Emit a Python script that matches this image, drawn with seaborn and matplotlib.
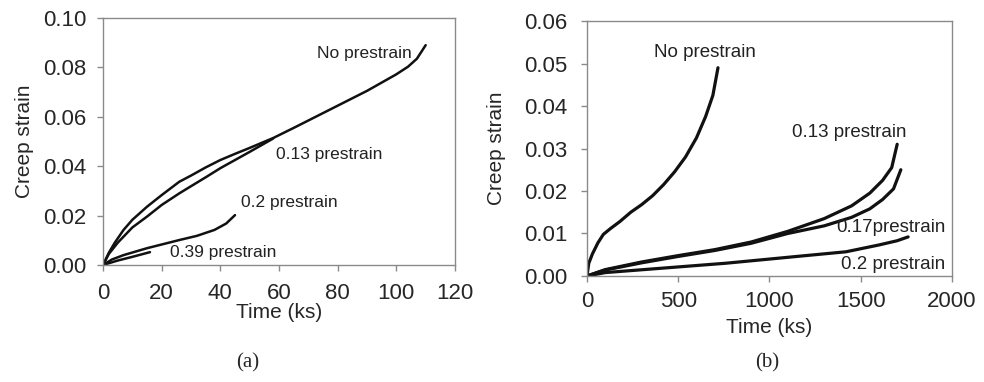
import matplotlib
matplotlib.use("Agg")
import matplotlib.pyplot as plt
import seaborn as sns
from matplotlib.ticker import FormatStrFormatter

# ---- panel (a): time in ks, creep strain
a_none_t = [0, 2, 4, 7, 10, 15, 20, 26, 30, 35, 40, 45, 50, 58, 65, 70, 80, 90, 100, 104, 107, 110]
a_none_e = [0, 0.005, 0.009, 0.0142, 0.0183, 0.0236, 0.0283, 0.0337, 0.0362, 0.0395, 0.0425,
            0.045, 0.0474, 0.0514, 0.0555, 0.0585, 0.0645, 0.0705, 0.0772, 0.0803, 0.0835, 0.089]
a_013_t = [0, 2, 5, 10, 15, 20, 26, 30, 35, 40, 45, 50, 58]
a_013_e = [0, 0.0045, 0.009, 0.0152, 0.0196, 0.0243, 0.029, 0.0319, 0.0355, 0.0392,
           0.0425, 0.0458, 0.0512]
a_02_t = [0, 3, 7, 15, 20, 26, 32, 38, 42, 45]
a_02_e = [0, 0.0022, 0.004, 0.0068, 0.0083, 0.0101, 0.0118, 0.0142, 0.0168, 0.0202]
a_039_t = [0, 5, 10, 16]
a_039_e = [0, 0.0018, 0.0033, 0.0052]

# ---- panel (b)
b_none_t = [0, 10, 30, 60, 90, 130, 180, 240, 300, 360, 420, 480, 540, 600, 650, 690, 718]
b_none_e = [0, 0.003, 0.0052, 0.0078, 0.0098, 0.0112, 0.0128, 0.015, 0.0168, 0.0189,
            0.0215, 0.0245, 0.028, 0.0325, 0.0375, 0.0425, 0.049]
b_013_t = [0, 100, 300, 500, 700, 900, 1100, 1300, 1450, 1550, 1620, 1670, 1700]
b_013_e = [0, 0.0015, 0.0033, 0.0048, 0.0062, 0.008, 0.0105, 0.0135, 0.0165, 0.0195,
           0.0225, 0.0255, 0.031]
b_017_t = [0, 100, 300, 500, 700, 900, 1100, 1300, 1450, 1550, 1620, 1680, 1720]
b_017_e = [0, 0.0014, 0.0031, 0.0046, 0.006, 0.0077, 0.01, 0.0118, 0.0138, 0.0158,
           0.018, 0.0205, 0.025]
b_02_t = [0, 100, 400, 760, 1150, 1420, 1600, 1700, 1760]
b_02_e = [0, 0.0008, 0.0018, 0.003, 0.0046, 0.0057, 0.0073, 0.0083, 0.0092]

sns.set_style("white")
plt.rcParams['font.family'] = ['Liberation Sans', 'DejaVu Sans']

fig = plt.figure(figsize=(9.84, 3.82), dpi=100)
ax1 = fig.add_axes([0.1047, 0.3063, 0.3577, 0.6466])
ax2 = fig.add_axes([0.5965, 0.2775, 0.3709, 0.6675])

spine_col = '#8a8a8a'
for ax in (ax1, ax2):
    for s in ax.spines.values():
        s.set_color(spine_col)
        s.set_linewidth(1.0)
    ax.tick_params(axis='both', which='major', direction='out', length=4, width=1,
                   color=spine_col, labelsize=16, left=True, bottom=True)
    ax.yaxis.set_major_formatter(FormatStrFormatter('%.2f'))

lw = 1.8
for t, e in [(a_none_t, a_none_e), (a_013_t, a_013_e), (a_02_t, a_02_e), (a_039_t, a_039_e)]:
    sns.lineplot(x=t, y=e, ax=ax1, color='#111111', linewidth=lw, estimator=None)
for t, e in [(b_none_t, b_none_e), (b_013_t, b_013_e), (b_017_t, b_017_e), (b_02_t, b_02_e)]:
    sns.lineplot(x=t, y=e, ax=ax2, color='#111111', linewidth=lw + 0.5, estimator=None)

ax1.set_xlim(0, 120)
ax1.set_ylim(0, 0.10)
ax1.set_xticks([0, 20, 40, 60, 80, 100, 120])
ax1.set_yticks([0, 0.02, 0.04, 0.06, 0.08, 0.10])
ax2.set_xlim(0, 2000)
ax2.set_ylim(0, 0.06)
ax2.set_xticks([0, 500, 1000, 1500, 2000])
ax2.set_yticks([0, 0.01, 0.02, 0.03, 0.04, 0.05, 0.06])

ax1.tick_params(axis='x', pad=9)
ax1.tick_params(axis='y', pad=8)
ax2.tick_params(axis='x', pad=7)
ax2.tick_params(axis='y', pad=10)

ax1.set_xlabel('Time (ks)', fontsize=15)
ax1.set_ylabel('Creep strain', fontsize=15)
ax2.set_xlabel('Time (ks)', fontsize=15)
ax2.set_ylabel('Creep strain', fontsize=15)
ax1.xaxis.set_label_coords(0.5, -0.155)
ax1.yaxis.set_label_coords(-0.197, 0.5)
ax2.xaxis.set_label_coords(0.5, -0.165)
ax2.yaxis.set_label_coords(-0.222, 0.5)

tc = '#222222'
ax1.text(73, 0.0858, 'No prestrain', fontsize=12.5, va='center', color=tc)
ax1.text(59, 0.0446, '0.13 prestrain', fontsize=12.5, va='center', color=tc)
ax1.text(47, 0.0251, '0.2 prestrain', fontsize=12.5, va='center', color=tc)
ax1.text(23, 0.0049, '0.39 prestrain', fontsize=12.5, va='center', color=tc)

ax2.text(367, 0.0527, 'No prestrain', fontsize=13.5, va='center', color=tc)
ax2.text(1123, 0.0338, '0.13 prestrain', fontsize=13.5, va='center', color=tc)
ax2.text(1364, 0.0115, '0.17prestrain', fontsize=13.5, va='center', color=tc)
ax2.text(1392, 0.0028, '0.2 prestrain', fontsize=13.5, va='center', color=tc)

fig.text(0.252, 0.05, '(a)', fontsize=15, ha='center', va='center',
         family=['Liberation Serif', 'DejaVu Serif'])
fig.text(0.780, 0.05, '(b)', fontsize=15, ha='center', va='center',
         family=['Liberation Serif', 'DejaVu Serif'])

fig.savefig('out.png', dpi=100)
plt.close(fig)
